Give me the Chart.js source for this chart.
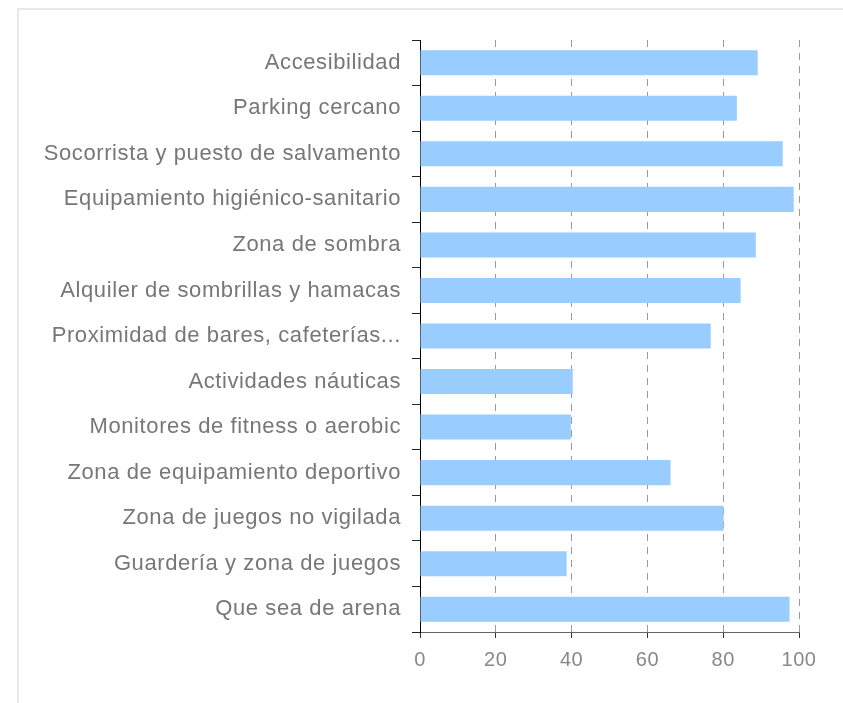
<!DOCTYPE html>
<html><head><meta charset="utf-8">
<script src="https://cdn.jsdelivr.net/npm/chart.js@4"></script>
<style>
html,body{margin:0;padding:0;background:#fff;overflow:hidden}
#frame{position:absolute;left:17px;top:8px;width:900px;height:800px;border:2px solid #e9e9e9;box-sizing:border-box}
#wrap{position:absolute;left:0;top:0;width:843px;height:703px}
</style></head>
<body>
<div id="frame"></div>
<div id="wrap"><canvas id="c" width="843" height="703"></canvas></div>
<script>
const categories = [
  "Accesibilidad",
  "Parking cercano",
  "Socorrista y puesto de salvamento",
  "Equipamiento higiénico-sanitario",
  "Zona de sombra",
  "Alquiler de sombrillas y hamacas",
  "Proximidad de bares, cafeterías...",
  "Actividades náuticas",
  "Monitores de fitness o aerobic",
  "Zona de equipamiento deportivo",
  "Zona de juegos no vigilada",
  "Guardería y zona de juegos",
  "Que sea de arena"
];
const values = [89.1, 83.6, 95.7, 98.6, 88.6, 84.6, 76.7, 40.3, 39.8, 66.1, 80.1, 38.7, 97.5];
const xTicks = [0, 20, 40, 60, 80, 100];

const spacing = {
  id: 'spacing',
  beforeDraw: chart => { chart.ctx.letterSpacing = '0.6px'; }
};

new Chart(document.getElementById('c'), {
  type: 'bar',
  data: {
    labels: categories,
    datasets: [{
      data: values,
      backgroundColor: '#99ccff',
      borderWidth: 0,
      barPercentage: 0.55,
      categoryPercentage: 1.0
    }]
  },
  plugins: [spacing],
  options: {
    indexAxis: 'y',
    responsive: false,
    animation: false,
    events: [],
    layout: { padding: { left: 0, right: 44, top: 40, bottom: 31 } },
    plugins: { legend: { display: false }, tooltip: { enabled: false } },
    scales: {
      x: {
        min: 0, max: 100,
        afterBuildTicks: s => { s.ticks = xTicks.map(v => ({ value: v })); },
        afterFit: s => { s.height = 40; },
        border: { display: true, color: '#666', width: 1, dash: [7, 6] },
        grid: {
          color: ctx => ctx.tick && ctx.tick.value === 0 ? 'rgba(0,0,0,0)' : '#999',
          tickColor: '#333',
          drawTicks: true,
          tickLength: 6,
          lineWidth: 1
        },
        ticks: { color: '#888', font: { family: 'Liberation Sans, Arial, sans-serif', size: 20 }, padding: 10 }
      },
      y: {
        afterFit: s => { s.width = 420; },
        border: { display: true, color: '#000', width: 1 },
        grid: { drawOnChartArea: false, drawTicks: true, tickLength: 8, tickColor: '#222', offset: true },
        ticks: { color: '#777', font: { family: 'Liberation Sans, Arial, sans-serif', size: 22 }, padding: 11 }
      }
    }
  }
});
</script>
</body></html>
